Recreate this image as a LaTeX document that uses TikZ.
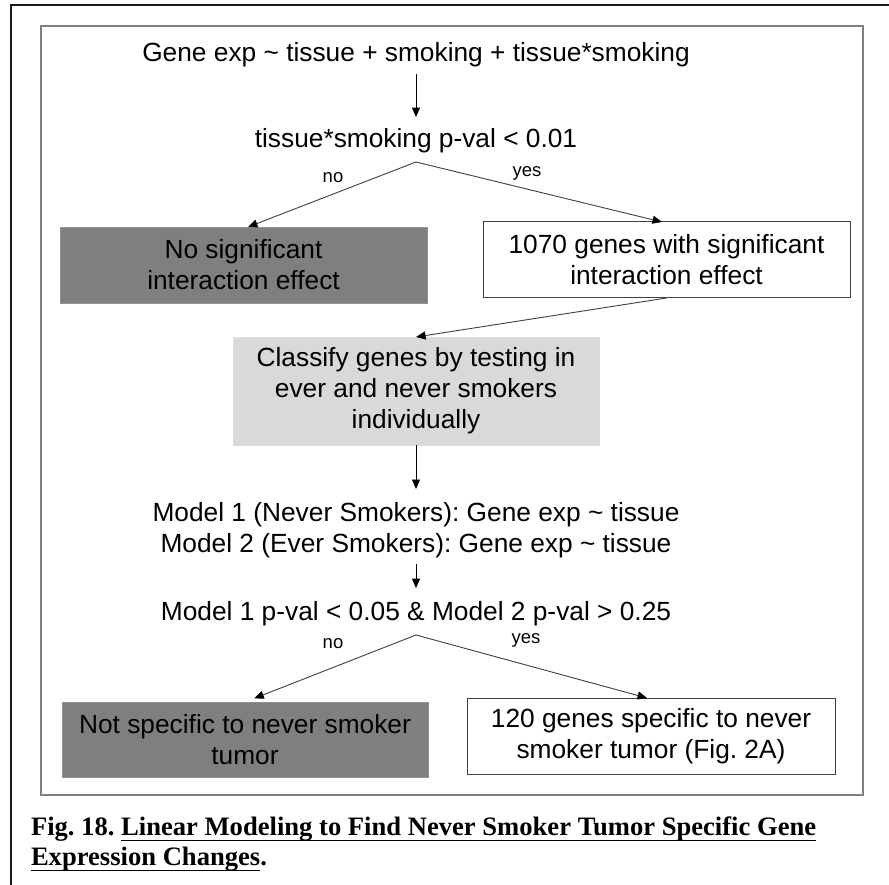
\documentclass[tikz,border=0pt]{standalone}
\usepackage{fontspec}
\setmainfont{Liberation Sans}
\newfontfamily\capfont{Liberation Serif}
\frenchspacing
\newsavebox\capbox
\newcommand\capul[1]{\sbox\capbox{#1}\rlap{\rule[-5.6pt]{\wd\capbox}{1.3pt}}\usebox\capbox}
\usetikzlibrary{arrows.meta}
\definecolor{darkbox}{HTML}{7F7F7F}
\definecolor{lightbox}{HTML}{D9D9D9}
\definecolor{edgecol}{HTML}{404040}
\definecolor{framecol}{HTML}{808080}
\definecolor{outercol}{HTML}{1A1A1A}
\begin{document}
\begin{tikzpicture}[x=1pt,y=-1pt,
  every node/.style={inner sep=0pt, outer sep=0pt},
  main/.style={font=\fontsize{26.3}{31}\selectfont, text=black},
  lbl/.style={font=\fontsize{18.5}{22}\selectfont, text=black},
  darkstep/.style={main, align=center, fill=darkbox, draw=darkbox!85!white, line width=0.8pt},
  whitestep/.style={main, align=center, fill=white, draw=edgecol, line width=1pt},
  lightstep/.style={main, align=center, fill=lightbox, draw=lightbox!90!white, line width=0.8pt},
  varr/.style={draw=black, line width=0.9pt, -{Triangle[length=9.5pt,width=8pt]}},
  barr/.style={draw=edgecol, line width=0.9pt, -{Triangle[length=9.5pt,width=8pt,color=black]}},
  captext/.style={font=\capfont\bfseries\fontsize{26.6}{30}\selectfont, align=left, text=black}
]
\useasboundingbox (0,0) rectangle (889,885);
\fill[white] (0,0) rectangle (889,885);
% frames
\draw[outercol, line width=2pt] (11,885) -- (11,5) -- (889,5);
\draw[framecol, line width=1.2pt] (41,26) rectangle (863,795);

% texts and boxes
\node[main, anchor=base] (T1) at (416,62) {Gene exp \textasciitilde{} tissue + smoking + tissue*smoking};
\node[main, anchor=base] (T2) at (416,148) {tissue*smoking p-val < 0.01};
\coordinate (A1) at (416,162);

\node[darkstep, minimum width=367pt, minimum height=76pt] (B1) at (243.5,265) {No significant\\interaction effect};
\node[whitestep, minimum width=367pt, minimum height=76pt] (B2) at (666.5,260) {1070 genes with significant\\interaction effect};
\node[lightstep, minimum width=366pt, minimum height=108pt] (G2) at (416,391) {Classify genes by testing in\\ever and never smokers\\individually};

\node[main, align=center, anchor=north] (M) at (416,502.8) {Model 1 (Never Smokers): Gene exp \textasciitilde{} tissue\\Model 2 (Ever Smokers): Gene exp \textasciitilde{} tissue};
\node[main, anchor=base] (T4) at (416,620) {Model 1 p-val < 0.05 \& Model 2 p-val > 0.25};
\coordinate (A2) at (416,635);

\node[darkstep, minimum width=366pt, minimum height=75pt] (B3) at (245,739.5) {Not specific to never smoker\\tumor};
\node[whitestep, minimum width=368pt, minimum height=76pt] (B4) at (651,736) {120 genes specific to never\\smoker tumor (Fig. 2A)};

% connectors
\draw[varr, shorten <=6.5pt, shorten >=11.8pt] (T1.south) -- (T2.north);
\draw[barr] (A1) -- ([xshift=4.5pt]B1.north);
\draw[barr] (A1) -- ([xshift=-4.5pt]B2.north);
\draw[barr] (B2.south) -- (G2.north);
\draw[varr, shorten >=13.8pt] (G2.south) -- (M.north);
\draw[varr, shorten <=5.5pt, shorten >=12.8pt] (M.south) -- (T4.north);
\draw[barr, shorten >=10pt] (A2) -- (B3.north);
\draw[barr] (A2) -- ([xshift=-4pt]B4.north);

% branch labels
\node[lbl, anchor=base] (no1) at (333,183) {no};
\node[lbl, anchor=base] (yes1) at (527,177) {yes};
\node[lbl, anchor=base] (no2) at (333,648) {no};
\node[lbl, anchor=base] (yes2) at (526,643) {yes};

% caption
\node[captext, anchor=north west] (cap) at (31,816.7) {Fig. 18. \capul{Linear Modeling to Find Never Smoker Tumor Specific Gene}\\\capul{Expression Changes}.};
\end{tikzpicture}
\end{document}
